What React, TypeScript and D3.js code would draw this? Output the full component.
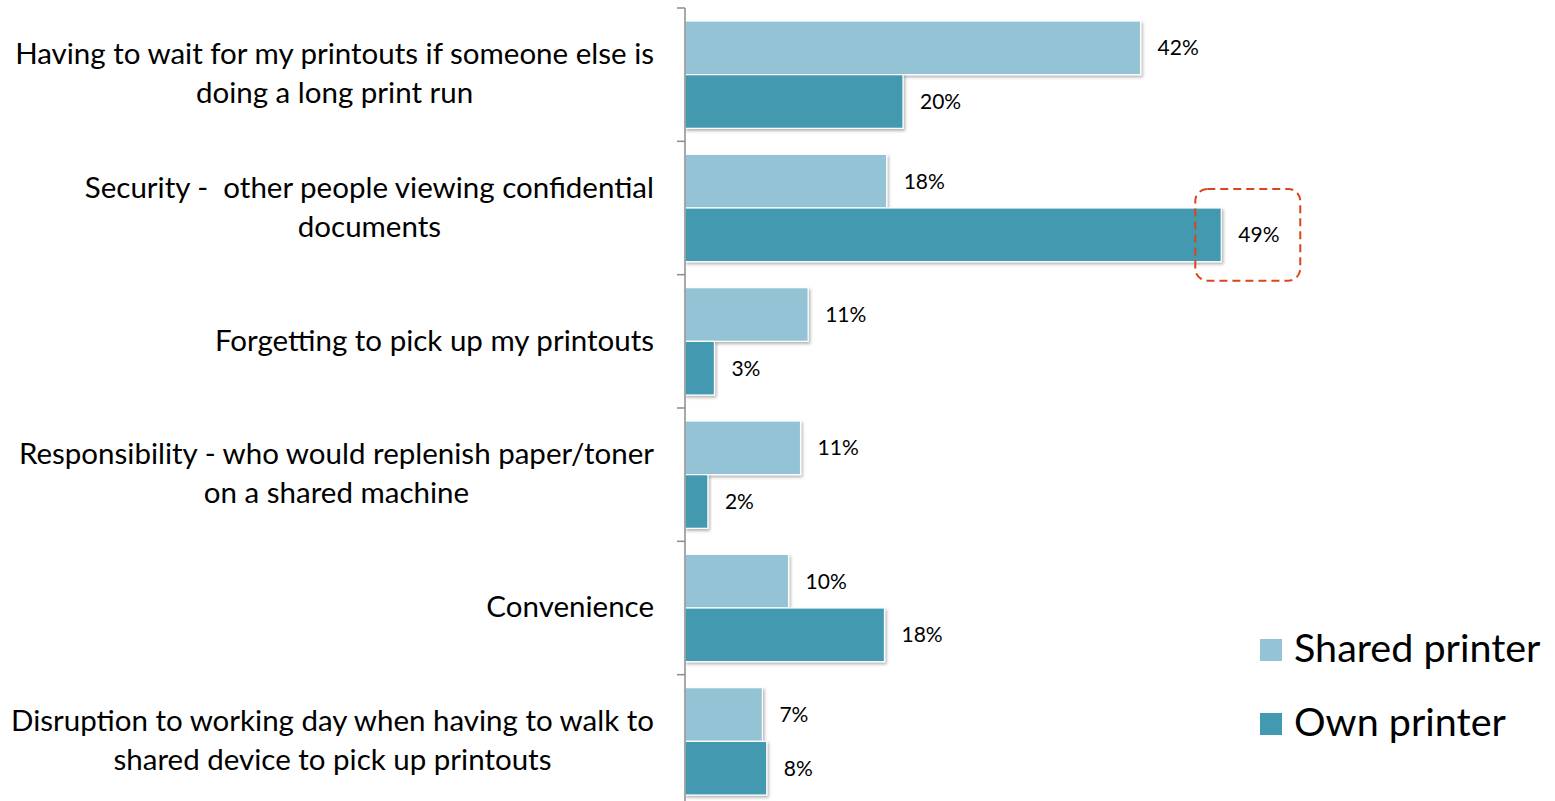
import React, { useEffect, useRef } from "react";
import * as d3 from "d3";

const categories = [
  "Having to wait for my printouts if someone else is|doing a long print run",
  "Security -  other people viewing confidential|documents",
  "Forgetting to pick up my printouts",
  "Responsibility - who would replenish paper/toner|on a shared machine",
  "Convenience",
  "Disruption to working day when having to walk to|shared device to pick up printouts",
];
const seriesNames = ["Shared printer", "Own printer"];
const sharedValues = [41.8, 18.5, 11.3, 10.6, 9.5, 7.1];
const ownValues = [20.0, 49.2, 2.7, 2.1, 18.3, 7.5];
const sharedLabels = ["42%", "18%", "11%", "11%", "10%", "7%"];
const ownLabels = ["20%", "49%", "3%", "2%", "18%", "8%"];
const highlightCategory = 1;
const highlightSeries = 1;

const COLORS = ["#93c3d5", "#4399b0"];
const FONT = "Lato, 'Open Sans', sans-serif";

export default function App() {
  const ref = useRef<SVGSVGElement>(null);
  useEffect(() => {
    const svg = d3.select(ref.current);
    svg.selectAll("*").remove();
    const W = 1555, H = 801;
    const x = d3.scaleLinear().domain([0, 50]).range([685, 1230]);
    const y0 = d3.scaleBand<number>()
      .domain(d3.range(categories.length))
      .range([8, 808])
      .paddingInner(0.195)
      .paddingOuter(0.0975);
    const y1 = d3.scaleBand<number>().domain([0, 1]).range([0, y0.bandwidth()]);
    const step = y0.step();

    const defs = svg.append("defs");
    const f = defs.append("filter").attr("id", "sh").attr("x", "-5%").attr("y", "-20%").attr("width", "120%").attr("height", "150%");
    f.append("feDropShadow").attr("dx", 1.5).attr("dy", 2).attr("stdDeviation", 1.5).attr("flood-color", "#000").attr("flood-opacity", 0.3);

    const series = [sharedValues, ownValues];
    const labels = [sharedLabels, ownLabels];

    // bars
    series.forEach((vals, s) => {
      const g = svg.append("g");
      g.selectAll("rect")
        .data(vals)
        .join("rect")
        .attr("x", x(0))
        .attr("y", (_, i) => y0(i)! + y1(s)!)
        .attr("width", (v) => x(v) - x(0))
        .attr("height", y1.bandwidth())
        .attr("fill", COLORS[s])
        .attr("stroke", "#fff")
        .attr("stroke-width", 1.2)
        .attr("filter", "url(#sh)");
      g.selectAll("text")
        .data(vals)
        .join("text")
        .attr("x", (v) => x(v) + 17)
        .attr("y", (_, i) => y0(i)! + y1(s)! + y1.bandwidth() / 2)
        .attr("dy", "0.35em")
        .attr("font-family", FONT)
        .attr("font-size", 21)
        .attr("fill", "#000")
        .text((_, i) => labels[s][i]);
    });

    // axis
    const ax = svg.append("g").attr("stroke", "#8c8c8c").attr("stroke-width", 1.5);
    ax.append("line").attr("x1", x(0)).attr("x2", x(0)).attr("y1", 8).attr("y2", 808);
    d3.range(categories.length + 1).forEach((i) => {
      const yy = 8 + i * step;
      ax.append("line").attr("x1", x(0) - 8).attr("x2", x(0)).attr("y1", yy).attr("y2", yy);
    });

    // category labels
    const lineH = 39;
    categories.forEach((c, i) => {
      const lines = c.split("|");
      const cy = y0(i)! + y0.bandwidth() / 2;
      const t = svg.append("text")
        .attr("font-family", FONT)
        .attr("font-size", 29.5)
        .attr("fill", "#000")
        .attr("text-anchor", "middle")
        .style("white-space", "pre");
      const spans = lines.map((ln, k) =>
        t.append("tspan")
          .attr("x", 0)
          .attr("y", cy + (k - (lines.length - 1) / 2) * lineH - 1)
          .attr("dy", "0.35em")
          .text(ln)
      );
      const maxW = d3.max(spans, (sp) => (sp.node() as SVGTextContentElement).getComputedTextLength()) || 0;
      const cx = 654 - maxW / 2;
      spans.forEach((sp) => sp.attr("x", cx));
    });

    // highlight box
    const hv = series[highlightSeries][highlightCategory];
    const hy = y0(highlightCategory)! + y1(highlightSeries)!;
    svg.append("rect")
      .attr("x", x(hv) - 26)
      .attr("y", hy - 19)
      .attr("width", 105)
      .attr("height", y1.bandwidth() + 38)
      .attr("rx", 12)
      .attr("fill", "none")
      .attr("stroke", "#d9461b")
      .attr("stroke-width", 2)
      .attr("stroke-dasharray", "8,5");

    // legend
    const lg = svg.append("g");
    seriesNames.forEach((n, s) => {
      const ly = 650 + s * 74;
      lg.append("rect").attr("x", 1260).attr("y", ly - 11).attr("width", 22).attr("height", 22).attr("fill", COLORS[s]);
      lg.append("text")
        .attr("x", 1294)
        .attr("y", ly - 2)
        .attr("dy", "0.35em")
        .attr("font-family", FONT)
        .attr("font-size", 39.5)
        .attr("fill", "#000")
        .text(n);
    });
    svg.attr("width", W).attr("height", H);
  }, []);
  return (
    <svg
      ref={ref}
      width={1555}
      height={801}
      style={{ position: "absolute", left: 0, top: 0, background: "#fff" }}
    />
  );
}
